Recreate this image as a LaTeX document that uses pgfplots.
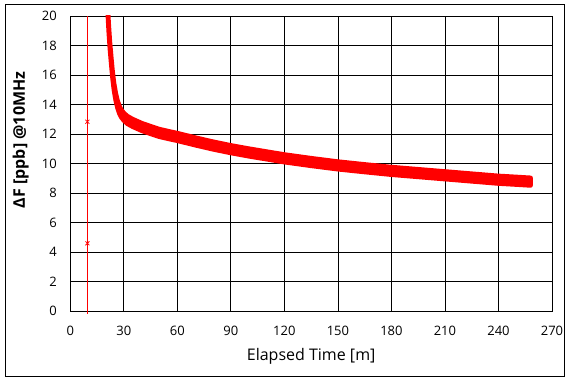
\documentclass[border=0pt]{standalone}
\usepackage{pgfplots}
\pgfplotsset{compat=1.18}
\usepackage{fontspec}
\setmainfont{Open Sans}
% band outline: upper edge left->right, then lower edge right->left
\pgfplotstableread{
t y
21.0 20.66
21.5 19.51
22.2 18.26
23.0 17.16
23.7 16.26
24.5 15.46
25.5 14.76
26.5 14.26
27.5 13.91
28.5 13.66
30 13.43
32 13.21
35 13.01
40 12.74
45 12.53
50 12.33
55 12.19
60 12.06
70 11.76
80 11.48
90 11.23
100 11.01
110 10.81
120 10.61
135 10.36
150 10.13
165 9.94
180 9.76
195 9.61
210 9.46
225 9.31
240 9.16
250 9.09
258 9.03
258 8.51
250 8.57
240 8.64
225 8.79
210 8.94
195 9.09
180 9.24
165 9.42
150 9.61
135 9.84
120 10.09
110 10.29
100 10.49
90 10.71
80 10.96
70 11.24
60 11.54
55 11.67
50 11.81
45 12.01
40 12.22
35 12.49
32 12.69
30 12.91
28.5 13.14
27.5 13.39
26.5 13.74
25.5 14.24
24.5 14.94
23.7 15.74
23.0 16.64
22.2 17.74
21.5 18.99
21.0 20.14
}\band
\begin{document}
\begin{tikzpicture}[x=1pt,y=1pt]
\useasboundingbox (0,0) rectangle (570,380);
\draw[black, line width=1pt] (5.5,3.5) rectangle (564.5,375);
\begin{axis}[
  at={(70.3pt,69pt)}, anchor=south west,
  scale only axis, width=481.7pt, height=295pt,
  xmin=0, xmax=270, ymin=0, ymax=20,
  xtick={0,30,...,270}, ytick={0,2,...,20},
  grid=major, major grid style={black, line width=0.8pt},
  axis line style={black, line width=0.8pt},
  major tick length=0pt,
  /pgf/number format/assume math mode=true,
  tick label style={font=\fontsize{13}{15}\selectfont, black},
  xticklabel style={yshift=-12pt},
  yticklabel style={xshift=-10pt},
  xlabel={Elapsed Time [m]},
  ylabel={\bfseries ΔF [ppb] @10MHz},
  label style={font=\fontsize{16}{19}\selectfont},
  xlabel style={at={(axis description cs:0.5,-0.153)}, anchor=center},
  ylabel style={at={(axis description cs:-0.103,0.58)}, anchor=center},
  clip mode=individual,
]
\addplot[draw=red, fill=red, line width=4.5pt, line join=round] table[x=t, y=y] {\band} -- cycle;
\addplot[red, line width=0.8pt, clip=false] coordinates {(9.6,-0.2) (9.6,20)};
\addplot[only marks, red, mark=x, mark size=2.8pt, mark options={line width=0.8pt}] coordinates {(9.6,12.83) (9.6,4.59)};
\end{axis}
\end{tikzpicture}
\end{document}
